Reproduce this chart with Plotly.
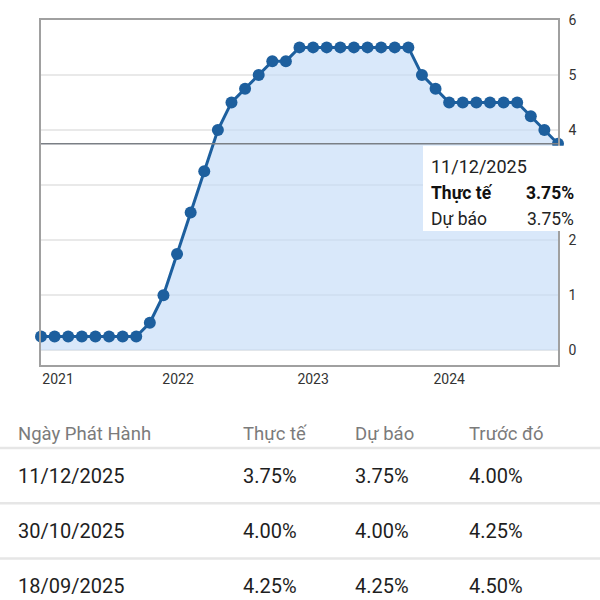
import plotly.graph_objects as go

# ---- data ----
rates = [0.25, 0.25, 0.25, 0.25, 0.25, 0.25, 0.25, 0.25,
         0.50, 1.00, 1.75, 2.50, 3.25, 4.00, 4.50,
         4.75, 5.00, 5.25, 5.25,
         5.50, 5.50, 5.50, 5.50, 5.50, 5.50, 5.50, 5.50, 5.50,
         5.00, 4.75,
         4.50, 4.50, 4.50, 4.50, 4.50, 4.50,
         4.25, 4.00, 3.75]
idx = list(range(len(rates)))
year_labels = ["2021", "2022", "2023", "2024"]
year_pos = [1.25, 10.07, 20.0, 30.0]
y_ticks = [0, 1, 2, 3, 4, 5, 6]
y_tick_text = ["0", "1", "2", "", "4", "5", "6"]  # "3" is hidden under the tooltip

tip_date = "11/12/2025"
tip_actual = "3.75%"
tip_forecast = "3.75%"

table_header = ["Ngày Phát Hành", "Thực tế", "Dự báo", "Trước đó"]
table_rows = [
    ["11/12/2025", "3.75%", "3.75%", "4.00%"],
    ["30/10/2025", "4.00%", "4.00%", "4.25%"],
    ["18/09/2025", "4.25%", "4.25%", "4.50%"],
]

LINE = "#1d5f9e"
FILL = "rgba(197,220,248,0.65)"
FONT = "Roboto"

fig = go.Figure()
fig.add_trace(go.Scatter(
    x=idx, y=rates, mode="lines+markers",
    line=dict(color=LINE, width=3),
    marker=dict(color=LINE, size=12),
    fill="tozeroy", fillcolor=FILL,
    cliponaxis=False, hoverinfo="skip", showlegend=False,
))

shapes = []
# crosshair at latest value
shapes.append(dict(type="line", xref="x", yref="y", x0=idx[0], x1=idx[-1],
                   y0=rates[-1], y1=rates[-1], line=dict(color="#7a7f85", width=1.5),
                   layer="above"))
# tooltip box
shapes.append(dict(type="rect", xref="paper", yref="paper",
                   x0=423/600, x1=576/600, y0=1-226/600, y1=1-139.5/600,
                   fillcolor="white", line=dict(width=0), layer="above"))
# table separators
for ypx in [446, 502, 558]:
    shapes.append(dict(type="line", xref="paper", yref="paper", x0=0, x1=1,
                       y0=1-ypx/600, y1=1-ypx/600, line=dict(color="#e6e6e6", width=2.5)))

ann = []
def A(x, y, text, size, color, bold=False, anchor="left"):
    ann.append(dict(xref="paper", yref="paper", x=x/600, y=1-y/600, text=(f"<b>{text}</b>" if bold else text),
                    showarrow=False, xanchor=anchor, yanchor="middle",
                    font=dict(family=FONT, size=size, color=color)))

A(429, 161, tip_date, 18, "#222")
A(429, 188, "Thực tế", 17.5, "#111", bold=True)
A(576, 188, tip_actual, 17.5, "#111", bold=True, anchor="right")
A(429, 214, "Dự báo", 17.5, "#222")
A(576, 214, tip_forecast, 17.5, "#222", anchor="right")

col_x = [16, 241, 353, 467]
for cx, h in zip(col_x, table_header):
    A(cx, 432, h, 18.5, "#7b7b7b")
row_y = [474, 530, 586]
for ry, row in zip(row_y, table_rows):
    for cx, v in zip(col_x, row):
        A(cx, ry, v, 20, "#1e1e1e")

fig.update_layout(
    width=600, height=600, margin=dict(l=0, r=0, t=0, b=0),
    paper_bgcolor="white", plot_bgcolor="white",
    shapes=shapes, annotations=ann,
    xaxis=dict(domain=[41/600, 558/600], range=[idx[0], idx[-1]],
               tickvals=year_pos, ticktext=year_labels, showgrid=False,
               showline=True, linecolor="#a0a0a0", linewidth=1.5, mirror=True,
               ticks="", tickfont=dict(family=FONT, size=14, color="#333"),
               zeroline=False, fixedrange=True),
    yaxis=dict(domain=[1-362/600, 1-12/600], range=[-0.27, 6.0], side="right",
               tickvals=y_ticks, ticktext=y_tick_text, showgrid=True, gridcolor="#e9e9e9", gridwidth=1.5,
               showline=True, linecolor="#a0a0a0", linewidth=1.5, mirror=True,
               ticks="outside", ticklen=6, tickcolor="rgba(0,0,0,0)",
               tickfont=dict(family=FONT, size=14, color="#333"),
               zeroline=False, fixedrange=True),
)

fig.write_html("out.html", config={"displayModeBar": False},
               post_script="document.body.style.margin='0';document.body.style.overflow='hidden';")
